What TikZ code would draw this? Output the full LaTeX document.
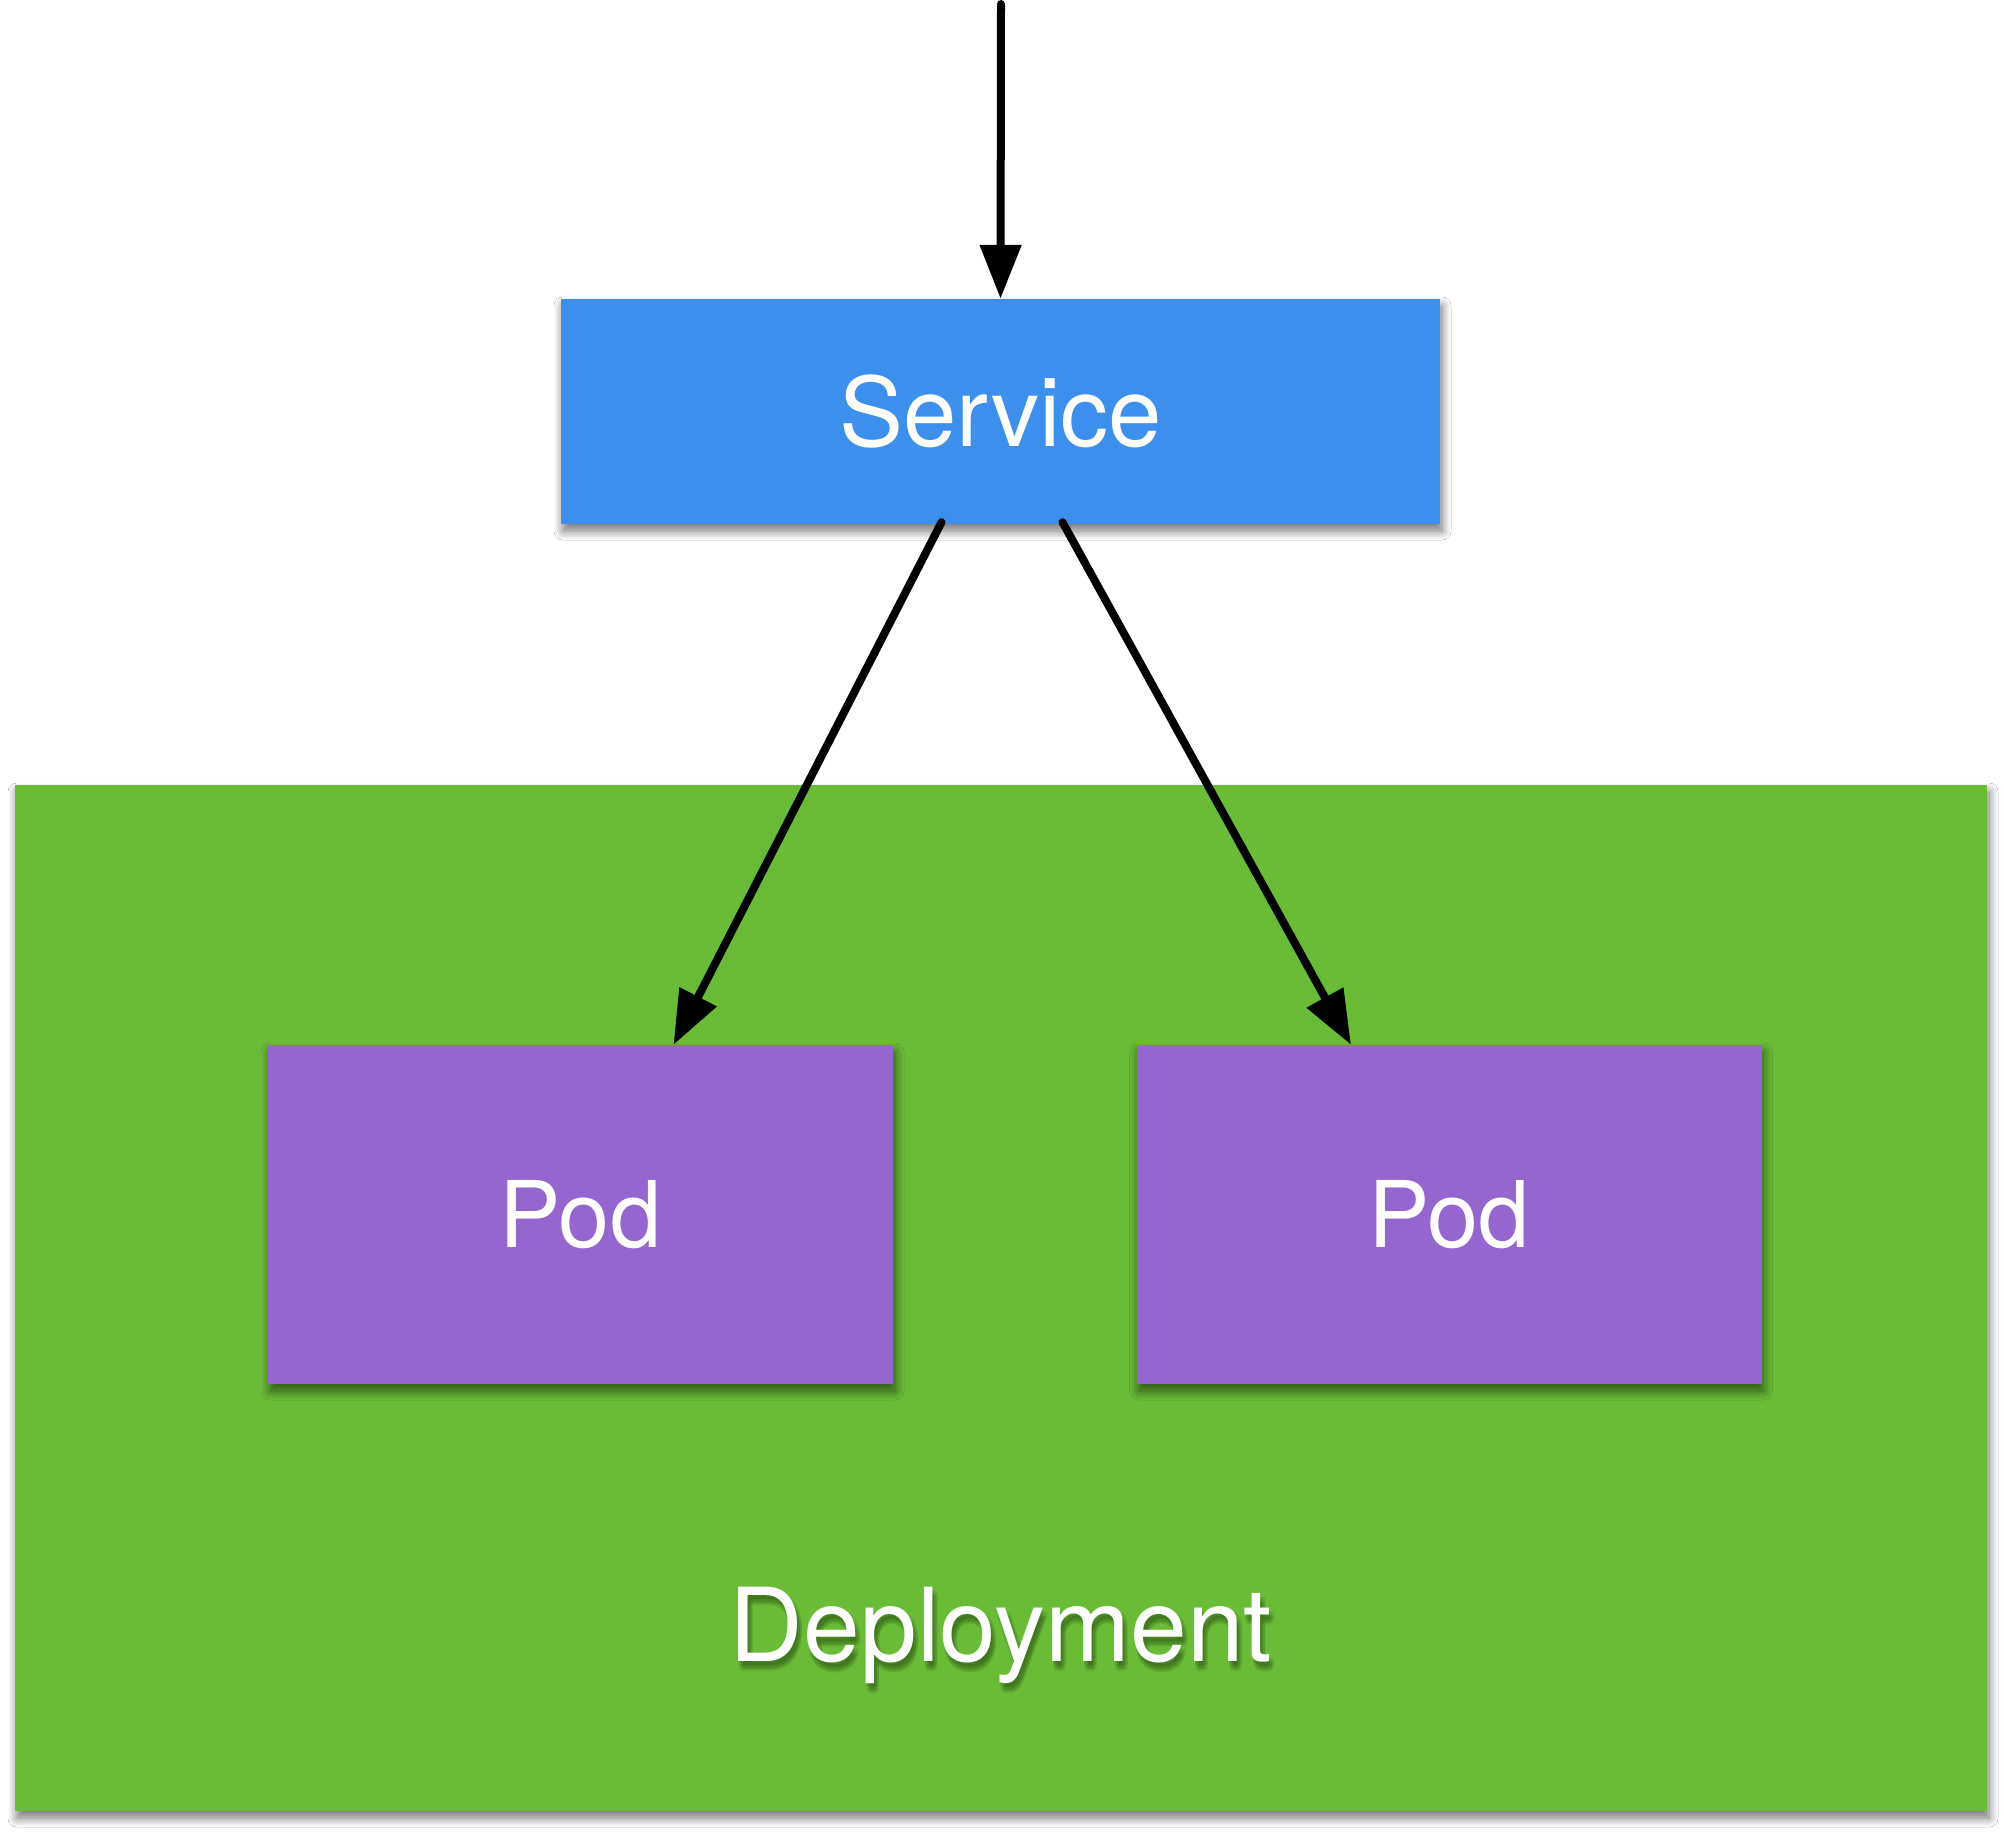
\documentclass[tikz,border=0pt]{standalone}
\usepackage{fontspec}
\setmainfont{TeX Gyre Heros}
\usetikzlibrary{arrows.meta,shadows.blur}

\definecolor{svcblue}{RGB}{61,143,237}
\definecolor{depgreen}{RGB}{106,188,55}
\definecolor{podpurple}{RGB}{149,101,208}
\definecolor{txtshadow}{RGB}{35,70,15}

\tikzset{
  box/.style={rectangle, inner sep=0pt, text=white, draw=none,
    blur shadow={shadow xshift=2pt, shadow yshift=-7pt, shadow blur radius=9pt,
      shadow blur steps=12, shadow opacity=55}},
  svcbox/.style={box, fill=svcblue, minimum width=879pt, minimum height=225pt,
    font=\fontsize{96pt}{110pt}\selectfont, text height=69pt, text depth=0pt},
  podbox/.style={box, fill=podpurple, minimum width=625pt, minimum height=339pt,
    font=\fontsize{92pt}{106pt}\selectfont, text height=66pt, text depth=0pt},
  depbox/.style={box, fill=depgreen, minimum width=1972pt, minimum height=1026pt},
  deplabel/.style={inner sep=0pt, anchor=base, font=\fontsize{102pt}{118pt}\selectfont},
  link/.style={draw=black, line width=8pt, line cap=round,
    -{Triangle[length=54pt, width=40pt]}}
}

\begin{document}
\begin{tikzpicture}[x=1pt, y=-1pt]
  \useasboundingbox[fill=white] (0,0) rectangle (2004,1833);

  % deployment area
  \node[depbox] (dep) at (1001,1298) {};
  % soft shadow of the caption, built from faint offset copies
  \foreach \dx/\dy in {1/4,5/4,3/6,1/8,5/8,3/10} {
    \node[deplabel, text=txtshadow, opacity=0.13] at (1001+\dx,1661+\dy) {Deployment};
  }
  \node[deplabel, text=white] (deptext) at (1001,1661) {Deployment};

  % service and pods
  \node[svcbox] (svc) at (1000.5,411.5) {Service};
  \node[podbox] (pod1) at (580.5,1214.5) {Pod};
  \node[podbox] (pod2) at (1449,1214.5) {Pod};

  % incoming traffic
  \coordinate (src) at (1001,4);
  \draw[link] (src) -- (svc.north);

  % service routes to the pods
  \draw[link] ([xshift=-59pt, yshift=2pt]svc.south) -- ([xshift=93pt]pod1.north);
  \draw[link] ([xshift=62pt, yshift=2pt]svc.south) -- ([xshift=-98pt]pod2.north);
\end{tikzpicture}
\end{document}
